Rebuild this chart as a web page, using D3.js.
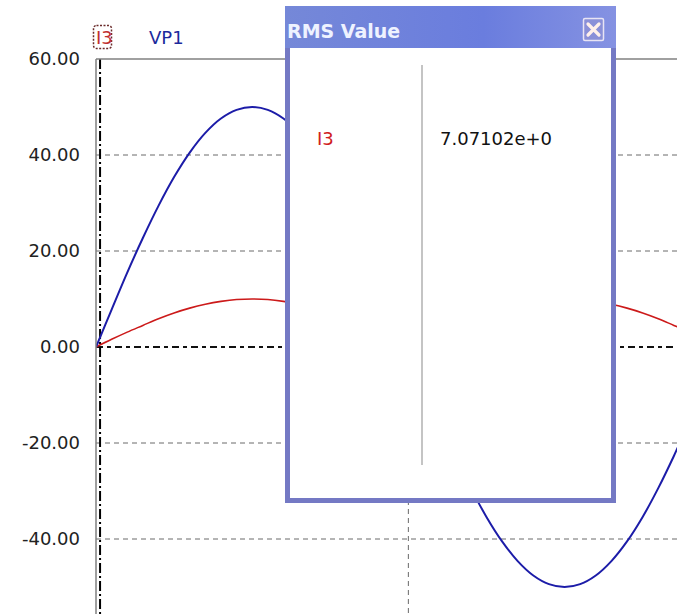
<!DOCTYPE html>
<html>
<head>
<meta charset="utf-8">
<script src="https://cdn.jsdelivr.net/npm/d3@7"></script>
<style>
  html, body { margin: 0; padding: 0; background: #fff; }
  svg { display: block; font-family: "DejaVu Sans", Verdana, sans-serif; }
</style>
</head>
<body>
<svg id="chart" width="677" height="614"></svg>
<script>
// Sample times (ms) and waveform values
const timeMs = [0,0.5,1,1.5,2,2.5,3,3.5,4,4.5,5,5.5,6,6.5,7,7.5,8,8.5,9,9.5,10,10.5,11,11.5,12,12.5,13,13.5,14,14.5,15,15.5,16,16.5,17,17.5,18,18.5,19];
const vp1 = [0,7.8,15.5,22.7,29.4,35.4,40.5,44.6,47.6,49.4,50.0,49.4,47.6,44.6,40.5,35.4,29.4,22.7,15.5,7.8,0,-7.8,-15.5,-22.7,-29.4,-35.4,-40.5,-44.6,-47.6,-49.4,-50.0,-49.4,-47.6,-44.6,-40.5,-35.4,-29.4,-22.7,-15.5];
const i3 = [0,1.6,3.1,4.5,5.9,7.1,8.1,8.9,9.5,9.9,10.0,9.9,9.5,8.9,8.1,7.1,5.9,4.5,3.1,1.6,0,1.6,3.1,4.5,5.9,7.1,8.1,8.9,9.5,9.9,10.0,9.9,9.5,8.9,8.1,7.1,5.9,4.5,3.1];
const yTicks = [60, 40, 20, 0, -20, -40];
const xGridTimes = [10];
const cursorTime = 0.13;
const seriesNames = ["I3", "VP1"];
const rmsLabel = "I3";
const rmsValue = "7.07102e+0";
const dialogTitle = "RMS Value";

const svg = d3.select("#chart");
const W = 677, H = 614;
const plotLeft = 96, plotTop = 59;

const x = d3.scaleLinear().domain([0, 18.6]).range([plotLeft, W]);
const y = d3.scaleLinear().domain([-40, 60]).range([539, plotTop]);

const defs = svg.append("defs");
defs.append("clipPath").attr("id", "plotClip")
  .append("rect").attr("x", plotLeft).attr("y", plotTop)
  .attr("width", W - plotLeft).attr("height", H - plotTop);

const plot = svg.append("g").attr("clip-path", "url(#plotClip)");

// horizontal dashed grid
plot.selectAll("line.hgrid").data(yTicks.filter(d => d !== 0 && d !== 60)).join("line")
  .attr("class", "hgrid")
  .attr("x1", plotLeft).attr("x2", W)
  .attr("y1", d => y(d)).attr("y2", d => y(d))
  .attr("stroke", "#6a6a6a").attr("stroke-width", 1).attr("stroke-dasharray", "5,4");

// vertical dashed grid
plot.selectAll("line.vgrid").data(xGridTimes).join("line")
  .attr("class", "vgrid")
  .attr("x1", d => x(d)).attr("x2", d => x(d))
  .attr("y1", plotTop).attr("y2", H)
  .attr("stroke", "#6a6a6a").attr("stroke-width", 1).attr("stroke-dasharray", "5,4");

// zero line
plot.append("line")
  .attr("x1", plotLeft).attr("x2", W).attr("y1", y(0)).attr("y2", y(0))
  .attr("stroke", "#111").attr("stroke-width", 2).attr("stroke-dasharray", "7,4,4,4");

// top border
svg.append("line").attr("x1", plotLeft).attr("x2", W).attr("y1", plotTop).attr("y2", plotTop)
  .attr("stroke", "#808080").attr("stroke-width", 1.5);

// Y axis (plain hyphen for negatives)
const fmt = d3.format(".2f");
const yAxis = d3.axisLeft(y).tickValues(yTicks).tickFormat(d => fmt(d).replace("\u2212", "-"))
  .tickSizeInner(0).tickSizeOuter(0).tickPadding(16);
const ag = svg.append("g").attr("transform", `translate(${plotLeft},0)`).call(yAxis);
ag.select(".domain").attr("stroke", "#808080").attr("stroke-width", 1.5)
  .attr("d", `M0,${plotTop}V${H}`);
ag.selectAll("text").attr("font-size", 18).attr("fill", "#222")
  .attr("font-family", "'DejaVu Sans', Verdana, sans-serif");

// cursor line
plot.append("line")
  .attr("x1", x(cursorTime)).attr("x2", x(cursorTime)).attr("y1", plotTop).attr("y2", H)
  .attr("stroke", "#000").attr("stroke-width", 2).attr("stroke-dasharray", "10,3,2,3");

// waveforms
const lineGen = vals => d3.line()
  .x((d, i) => x(timeMs[i]))
  .y(d => y(d))
  .curve(d3.curveCatmullRom)(vals);

plot.append("path").attr("d", lineGen(i3))
  .attr("fill", "none").attr("stroke", "#cc1a1a").attr("stroke-width", 1.6);
plot.append("path").attr("d", lineGen(vp1))
  .attr("fill", "none").attr("stroke", "#1c1ca8").attr("stroke-width", 2);

// legend
const lg = svg.append("g");
lg.append("rect").attr("x", 93.5).attr("y", 25.5).attr("width", 18).attr("height", 23)
  .attr("fill", "none").attr("stroke", "#6a2a2a").attr("stroke-width", 1.5)
  .attr("stroke-dasharray", "2,1.5").attr("rx", 3);
lg.append("text").attr("x", 96).attr("y", 44).text(seriesNames[0])
  .attr("font-size", 18).attr("fill", "#c03030");
lg.append("text").attr("x", 149).attr("y", 44).text(seriesNames[1])
  .attr("font-size", 18).attr("fill", "#1c2a9c");

// RMS dialog
const dlg = svg.append("g");
const grad = defs.append("linearGradient").attr("id", "titleGrad")
  .attr("x1", 0).attr("x2", 1).attr("y1", 0).attr("y2", 0);
grad.append("stop").attr("offset", 0).attr("stop-color", "#7588d8");
grad.append("stop").attr("offset", 0.6).attr("stop-color", "#6a7dde");
grad.append("stop").attr("offset", 1).attr("stop-color", "#8592e2");

dlg.append("rect").attr("x", 285).attr("y", 6).attr("width", 331).attr("height", 497)
  .attr("fill", "#7479c4");
dlg.append("rect").attr("x", 285).attr("y", 6).attr("width", 331).attr("height", 42)
  .attr("fill", "url(#titleGrad)");
dlg.append("rect").attr("x", 290).attr("y", 48).attr("width", 321).attr("height", 450)
  .attr("fill", "#ffffff");
dlg.append("text").attr("x", 287).attr("y", 38).text(dialogTitle)
  .attr("font-size", 19).attr("font-weight", "bold").attr("fill", "#eef2ff");

// close button
dlg.append("rect").attr("x", 583.5).attr("y", 18.5).attr("width", 20).attr("height", 22)
  .attr("fill", "#8a90d8").attr("stroke", "#e8e4f4").attr("stroke-width", 1.5).attr("rx", 1.5);
dlg.append("path").attr("d", "M588,24L599,35M599,24L588,35")
  .attr("stroke", "#fff0ea").attr("stroke-width", 3.2).attr("stroke-linecap", "round");

// column divider
dlg.append("line").attr("x1", 422).attr("x2", 422).attr("y1", 65).attr("y2", 465)
  .attr("stroke", "#b0b0b0").attr("stroke-width", 1.5);

dlg.append("text").attr("x", 317).attr("y", 145).text(rmsLabel)
  .attr("font-size", 18).attr("fill", "#d02020");
dlg.append("text").attr("x", 440).attr("y", 145).text(rmsValue)
  .attr("font-size", 18).attr("fill", "#111");
</script>
</body>
</html>
